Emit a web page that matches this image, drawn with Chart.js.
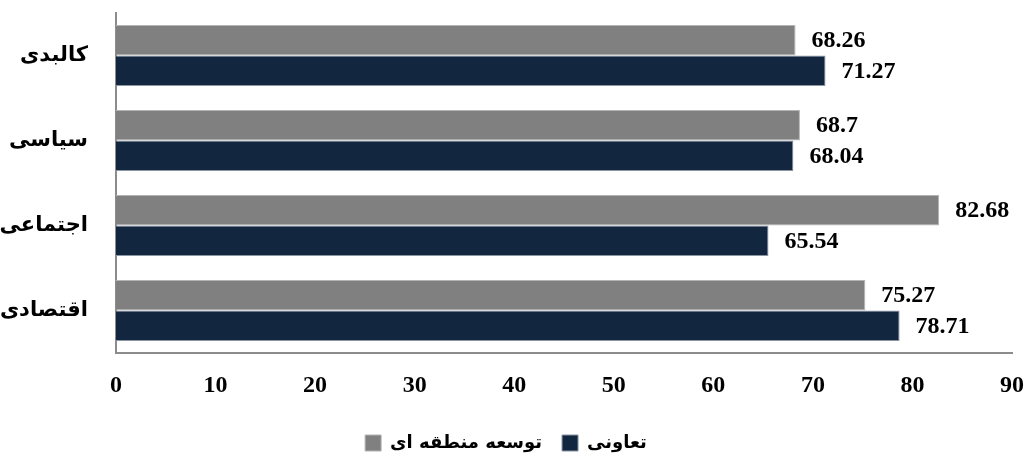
<!DOCTYPE html>
<html>
<head>
<meta charset="utf-8">
<script src="https://cdn.jsdelivr.net/npm/chart.js@4"></script>
<style>
    html, body { margin: 0; padding: 0; background: #fff; }
    #wrap { width: 1027px; height: 457px; }
</style>
</head>
<body>
<div id="wrap"><canvas id="chart"></canvas></div>
<script>
// Dados do gráfico
const categorias = ['کالبدی', 'سیاسی', 'اجتماعی', 'اقتصادی'];
const nomesSeries = ['توسعه منطقه ای', 'تعاونی'];
const valoresRegional = [68.26, 68.7, 82.68, 75.27];
const valoresCooperativa = [71.27, 68.04, 65.54, 78.71];
const escalaX = { min: 0, max: 90, passo: 10 };

// Plugin simples para escrever o valor ao lado de cada barra
const rotulosBarras = {
    id: 'rotulosBarras',
    afterDatasetsDraw(chart) {
        const ctx = chart.ctx;
        ctx.save();
        ctx.font = 'bold 24px "Liberation Serif", "Times New Roman", serif';
        ctx.fillStyle = '#000';
        ctx.textAlign = 'left';
        ctx.textBaseline = 'middle';
        chart.data.datasets.forEach((ds, i) => {
            chart.getDatasetMeta(i).data.forEach((bar, j) => {
                ctx.fillText(String(ds.data[j]), bar.x + 16, bar.y + 1);
            });
        });
        ctx.restore();
    }
};

const ctx = document.getElementById('chart').getContext('2d');
new Chart(ctx, {
    type: 'bar',
    data: {
        labels: categorias,
        datasets: [
            {
                label: nomesSeries[0],
                data: valoresRegional,
                backgroundColor: '#808080',
                borderColor: '#b4b4b4',
                borderWidth: 1,
                categoryPercentage: 0.72,
                barPercentage: 1.0
            },
            {
                label: nomesSeries[1],
                data: valoresCooperativa,
                backgroundColor: '#132640',
                borderColor: '#8a94a3',
                borderWidth: 1,
                categoryPercentage: 0.72,
                barPercentage: 1.0
            }
        ]
    },
    options: {
        indexAxis: 'y',
        responsive: true,
        maintainAspectRatio: false,
        animation: false,
        layout: { padding: { top: 13, right: 15, left: 0, bottom: -5 } },
        plugins: {
            tooltip: { enabled: false },
            legend: {
                position: 'bottom',
                labels: {
                    boxWidth: 16,
                    boxHeight: 16,
                    padding: 20,
                    color: '#000',
                    font: { family: '"DejaVu Sans", sans-serif', size: 18, weight: 'bold' }
                }
            }
        },
        scales: {
            x: {
                min: escalaX.min,
                max: escalaX.max,
                grid: { display: false, drawTicks: false },
                border: { display: true, color: '#8c8c8c', width: 2 },
                ticks: {
                    stepSize: escalaX.passo,
                    padding: 18,
                    color: '#000',
                    font: { family: '"Liberation Serif", "Times New Roman", serif', size: 24, weight: 'bold' }
                },
                afterFit(scale) {
                    scale.height = 61;
                    scale.paddingLeft = 0;
                    scale.paddingRight = 0;
                }
            },
            y: {
                grid: { display: false, drawTicks: false },
                border: { display: true, color: '#8c8c8c', width: 2 },
                ticks: {
                    padding: 28,
                    color: '#000',
                    font: { family: '"DejaVu Sans", sans-serif', size: 21, weight: 'bold' }
                },
                afterFit(scale) {
                    scale.width = 116;
                    scale.paddingTop = 0;
                    scale.paddingBottom = 0;
                }
            }
        }
    },
    plugins: [rotulosBarras]
});
</script>
</body>
</html>
